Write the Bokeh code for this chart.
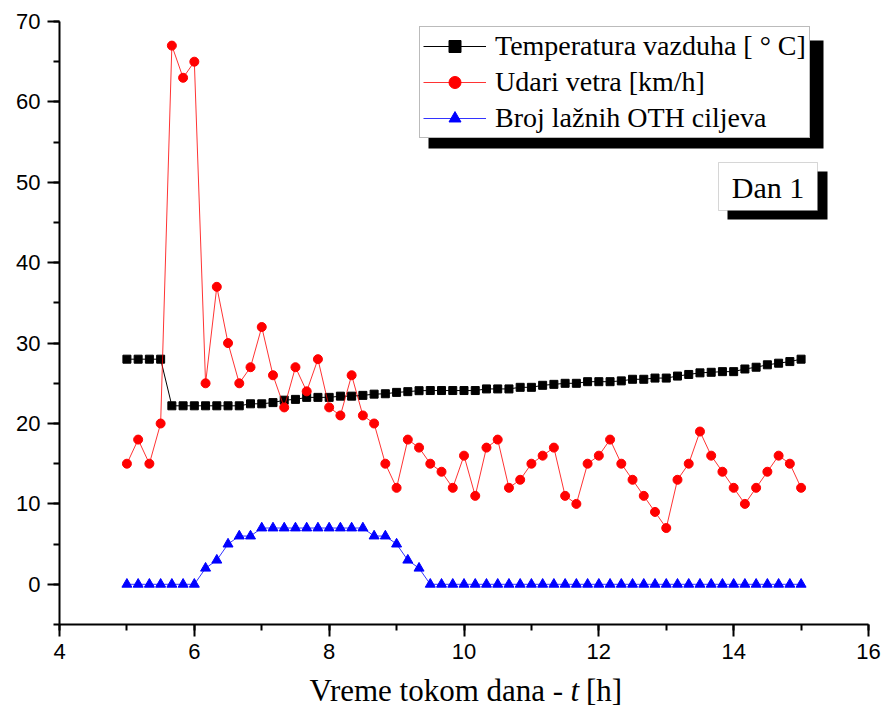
from bokeh.plotting import figure
from bokeh.layouts import column
from bokeh.models import (Range1d, SingleIntervalTicker, Legend, LegendItem,
                          BoxAnnotation, Label)
from bokeh.core.properties import value
from bokeh.embed import file_html
from bokeh.resources import INLINE

# ---------------- data ----------------
t_hours = [5 + i / 6 for i in range(61)]

temperature = [28, 28, 28, 28,
               22.2, 22.2, 22.2, 22.2, 22.2, 22.2, 22.2,
               22.45, 22.45, 22.6, 22.9, 23.0, 23.25, 23.25, 23.25, 23.4, 23.4, 23.5, 23.65,
               23.7, 23.87, 23.96, 24.08, 24.1, 24.1, 24.1, 24.1, 24.1, 24.3, 24.3, 24.3,
               24.5, 24.5, 24.75, 24.87, 25.0, 25.0, 25.2, 25.2, 25.2, 25.3, 25.5, 25.5,
               25.65, 25.65, 25.9, 26.1, 26.3, 26.37, 26.45, 26.45, 26.78, 27.0, 27.3,
               27.5, 27.7, 28.0]

wind_gusts = [15, 18, 15, 20, 67, 63, 65, 25, 37, 30, 25, 27, 32, 26, 22, 27, 24, 28,
              22, 21, 26, 21, 20, 15, 12, 18, 17, 15, 14, 12, 16, 11, 17, 18, 12, 13,
              15, 16, 17, 11, 10, 15, 16, 18, 15, 13, 11, 9, 7, 13, 15, 19, 16, 14,
              12, 10, 12, 14, 16, 15, 12]

false_targets = ([0, 0, 0, 0, 0, 0, 0, 2, 3, 5, 6, 6] + [7] * 10 +
                 [6, 6, 5, 3, 2] + [0] * 34)

series_names = ["Temperatura vazduha [ \u00b0 C]", "Udari vetra [km/h]",
                "Broj la\u017enih OTH ciljeva"]
x_label_parts = ["Vreme tokom dana -", "t", "[h]"]
panel_text = "Dan 1"

# ---------------- layout ----------------
W, H_MAIN, H_SUB = 885, 670, 47
FL, FR, FT, FB = 59, 868, 21, 624
X0, X1, Y0, Y1 = 4, 16, -5, 70

def dx(px):
    return X0 + (px - FL) * (X1 - X0) / (FR - FL)

def dy(py):
    return Y1 - (py - FT) * (Y1 - Y0) / (FB - FT)

p = figure(width=W, height=H_MAIN, output_backend="svg", toolbar_location=None,
           x_range=Range1d(X0, X1), y_range=Range1d(Y0, Y1),
           min_border_left=FL, min_border_right=W - FR,
           min_border_top=FT, min_border_bottom=H_MAIN - FB)
p.outline_line_color = None
p.xgrid.visible = False
p.ygrid.visible = False
p.background_fill_color = "white"
p.border_fill_color = "white"

p.xaxis.ticker = SingleIntervalTicker(interval=2, num_minor_ticks=2)
p.yaxis.ticker = SingleIntervalTicker(interval=10, num_minor_ticks=2)
for ax in (p.xaxis, p.yaxis):
    ax.axis_line_width = 2
    ax.axis_line_color = "black"
    ax.major_tick_line_width = 2
    ax.minor_tick_line_width = 2
    ax.major_tick_out = 12
    ax.major_tick_in = 0
    ax.minor_tick_out = 6
    ax.minor_tick_in = 0
    ax.major_label_text_font = "Liberation Sans"
    ax.major_label_text_font_size = "22px"
    ax.major_label_text_color = "black"
p.yaxis.major_label_standoff = 7
p.xaxis.major_label_standoff = 7

# ---------------- series ----------------
r_t_line = p.line(t_hours, temperature, line_color="black", line_width=1)
r_t_mark = p.scatter(t_hours, temperature, marker="square", size=8,
                     fill_color="black", line_color="black")
r_w_line = p.line(t_hours, wind_gusts, line_color="red", line_width=1, line_alpha=0.8)
r_w_mark = p.scatter(t_hours, wind_gusts, marker="circle", size=9,
                     fill_color="red", line_color="red")
r_b_line = p.line(t_hours, false_targets, line_color="blue", line_width=1, line_alpha=0.8)
r_b_mark = p.scatter(t_hours, false_targets, marker="triangle", size=10,
                     fill_color="blue", line_color="blue")

# ---------------- legend with shadow ----------------
p.add_layout(BoxAnnotation(left=dx(428), right=dx(823), top=dy(40), bottom=dy(148),
                           fill_color="black", fill_alpha=1, line_color=None))

legend = Legend(items=[
    LegendItem(label=series_names[0], renderers=[r_t_line, r_t_mark]),
    LegendItem(label=series_names[1], renderers=[r_w_line, r_w_mark]),
    LegendItem(label=series_names[2], renderers=[r_b_line, r_b_mark]),
], location=(419 - FL, FB - 138))
legend.label_text_font = "Liberation Serif"
legend.label_text_font_size = "28px"
legend.label_text_color = "black"
legend.glyph_width = 63
legend.glyph_height = 30
legend.label_height = 30
legend.label_standoff = 9
legend.spacing = 4
legend.padding = 3
legend.margin = 0
legend.border_line_color = "#777777"
legend.border_line_width = 1
legend.background_fill_color = "white"
legend.background_fill_alpha = 1
p.add_layout(legend, "center")

# ---------------- "Dan 1" box ----------------
p.add_layout(BoxAnnotation(left=dx(727), right=dx(827), top=dy(171), bottom=dy(219),
                           fill_color="black", fill_alpha=1, line_color=None))
p.add_layout(BoxAnnotation(left=dx(718), right=dx(817), top=dy(162), bottom=dy(210),
                           fill_color="white", fill_alpha=1,
                           line_color="#777777", line_width=1))
p.add_layout(Label(x=dx(767.5), y=dy(187), text=panel_text, text_align="center",
                   text_baseline="middle", text_font="Liberation Serif",
                   text_font_size="30px", text_color="black"))

# ---------------- x-axis title strip (italic t) ----------------
s = figure(width=W, height=H_SUB, output_backend="svg", toolbar_location=None,
           x_range=Range1d(0, W), y_range=Range1d(H_SUB, 0),
           min_border_left=0, min_border_right=0, min_border_top=0,
           min_border_bottom=0)
s.axis.visible = False
s.grid.visible = False
s.outline_line_color = None
s.background_fill_color = "white"
s.border_fill_color = "white"
ty = 690 - H_MAIN
s.text(x=[551], y=[ty], text=[x_label_parts[0]], text_align="right",
       text_baseline="middle", text_font=value("Liberation Serif"),
       text_font_size="31px", text_color="black")
s.text(x=[559], y=[ty], text=[x_label_parts[1]], text_align="left",
       text_baseline="middle", text_font=value("Liberation Serif"),
       text_font_style="italic", text_font_size="31px", text_color="black")
s.text(x=[576], y=[ty], text=[x_label_parts[2]], text_align="left",
       text_baseline="middle", text_font=value("Liberation Serif"),
       text_font_size="31px", text_color="black")

layout = column(p, s, spacing=0)
open("out.html", "w").write(file_html(layout, INLINE))
